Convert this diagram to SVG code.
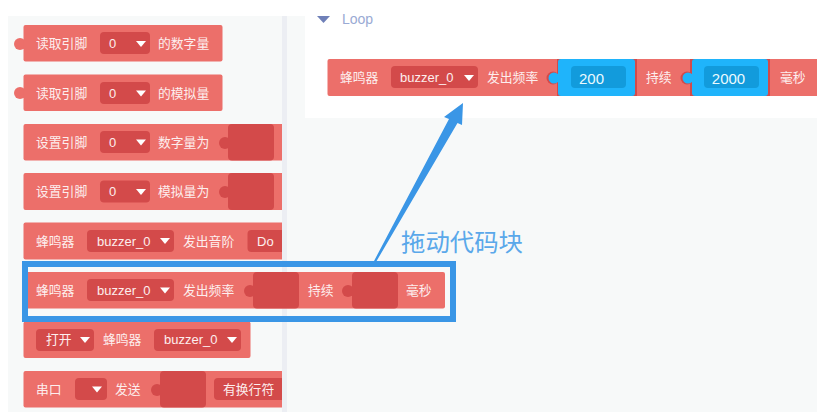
<svg xmlns="http://www.w3.org/2000/svg" width="817" height="412" viewBox="0 0 817 412">
<style>
text{font-family:"Liberation Sans","Noto Sans CJK SC",sans-serif}
.b{fill:#ec6f6a}
.d{fill:#d34a4a}
.h{fill:#d34a4a}
.t{fill:#fdeeee;font-size:12.8px;dominant-baseline:central}
.v{fill:#fdeeee;font-size:13px;dominant-baseline:central}
.w{fill:#fff}
.u{fill:#1fb4fb}
.i{fill:#129bdc}
.n{fill:#eafaff;font-size:15px;text-anchor:middle;dominant-baseline:central}
</style>
<defs>
<path id="tri" class="w" d="M-5-3H5L0 3Z"/>
</defs>
<rect width="817" height="412" fill="#fff"/>
<rect x="8" y="16" width="809" height="396" fill="#f7f9f9"/>
<rect x="282" y="16" width="5" height="396" fill="#eceef3"/>
<rect x="305" y="0" width="512" height="118" fill="#fff"/>

<g id="block-read-digital">
<circle class="b" cx="20" cy="44" r="6"/><rect class="b" x="23.500" y="25" width="199" height="36.500" rx="2"/>
<text class="t" x="36" y="43.500">读取引脚</text>
<rect class="d" x="100" y="32" width="50" height="22" rx="4"/><text class="v" x="109" y="43.500">0</text><use href="#tri" x="141" y="44"/>
<text class="t" x="158" y="43.500">的数字量</text>
</g>
<g id="block-read-analog">
<circle class="b" cx="20" cy="93" r="6"/><rect class="b" x="23.500" y="74.500" width="199" height="36.500" rx="2"/>
<text class="t" x="36" y="93">读取引脚</text>
<rect class="d" x="100" y="82" width="50" height="22" rx="4"/><text class="v" x="109" y="93">0</text><use href="#tri" x="141" y="93.500"/>
<text class="t" x="158" y="93">的模拟量</text>
</g>
<g id="block-set-digital">
<path class="b" d="M25.500 124H282V160.500H25.500a2 2 0 0 1-2-2V126a2 2 0 0 1 2-2Z"/>
<text class="t" x="36" y="142">设置引脚</text>
<rect class="d" x="100" y="131" width="50" height="22" rx="4"/><text class="v" x="109" y="142">0</text><use href="#tri" x="141" y="142.500"/>
<text class="t" x="158" y="142">数字量为</text>
<circle class="h" cx="225" cy="143" r="6"/><rect class="h" x="228" y="124" width="46" height="36.500" rx="4"/>
</g>
<g id="block-set-analog">
<path class="b" d="M25.500 173H282V210H25.500a2 2 0 0 1-2-2V175a2 2 0 0 1 2-2Z"/>
<text class="t" x="36" y="191">设置引脚</text>
<rect class="d" x="100" y="180.500" width="50" height="22" rx="4"/><text class="v" x="109" y="191">0</text><use href="#tri" x="141" y="192"/>
<text class="t" x="158" y="191">模拟量为</text>
<circle class="h" cx="225" cy="192" r="6"/><rect class="h" x="228" y="173" width="46" height="37" rx="4"/>
</g>
<g id="block-buzzer-tone">
<path class="b" d="M25.500 222.500H282V259.500H25.500a2 2 0 0 1-2-2V224.500a2 2 0 0 1 2-2Z"/>
<text class="t" x="36" y="241">蜂鸣器</text>
<rect class="d" x="87" y="230" width="87" height="22" rx="4"/><text class="v" x="97" y="241">buzzer_0</text><use href="#tri" x="165" y="241"/>
<text class="t" x="183" y="241">发出音阶</text>
<path class="d" d="M282 230H251.500a4 4 0 0 0-4 4V248a4 4 0 0 0 4 4H282Z"/><text class="v" x="257" y="241">Do</text>
</g>
<g id="block-buzzer-freq">
<rect class="b" x="23.500" y="272" width="421.500" height="36.500" rx="2"/>
<text class="t" x="36" y="290">蜂鸣器</text>
<rect class="d" x="87" y="279" width="87" height="22" rx="4"/><text class="v" x="97" y="290">buzzer_0</text><use href="#tri" x="165" y="290.500"/>
<text class="t" x="183" y="290">发出频率</text>
<circle class="h" cx="250" cy="291" r="6"/><rect class="h" x="253" y="272" width="46" height="36.500" rx="4"/>
<text class="t" x="308" y="290">持续</text>
<circle class="h" cx="348" cy="291" r="6"/><rect class="h" x="352" y="272" width="46" height="36.500" rx="4"/>
<text class="t" x="406" y="290">毫秒</text>
</g>
<g id="block-open-buzzer">
<rect class="b" x="23.500" y="321.500" width="227" height="36.500" rx="2"/>
<rect class="d" x="36" y="329" width="58" height="22" rx="4"/><text class="t" x="46" y="339.500">打开</text><use href="#tri" x="85" y="340"/>
<text class="t" x="103" y="339.500">蜂鸣器</text>
<rect class="d" x="154" y="329" width="87" height="22" rx="4"/><text class="v" x="164" y="339.500">buzzer_0</text><use href="#tri" x="232" y="340"/>
</g>
<g id="block-serial">
<path class="b" d="M25.500 371H282V407.500H25.500a2 2 0 0 1-2-2V373a2 2 0 0 1 2-2Z"/>
<text class="t" x="36" y="389">串口</text>
<rect class="d" x="75" y="378" width="32" height="22" rx="4"/><use href="#tri" x="97" y="389.500"/>
<text class="t" x="115" y="389">发送</text>
<circle class="h" cx="157" cy="390" r="6"/><rect class="h" x="160" y="371" width="46" height="36.500" rx="4"/>
<path class="d" d="M282 378H218a4 4 0 0 0-4 4V396a4 4 0 0 0 4 4H282Z"/><text class="t" x="223" y="389">有换行符</text>
</g>

<g id="loop-header">
<path d="M317 16H330L323.500 23Z" fill="#6f80b8"/>
<text x="342" y="19" font-size="14" fill="#9aaad4" dominant-baseline="central">Loop</text>
</g>
<g id="loop-block">
<path class="b" d="M817 59H329.500a2 2 0 0 0-2 2V94a2 2 0 0 0 2 2H817Z"/>
<text class="t" x="340" y="77">蜂鸣器</text>
<rect class="d" x="391" y="66" width="87" height="22" rx="4"/><text class="v" x="400" y="77">buzzer_0</text><use href="#tri" x="469" y="78"/>
<text class="t" x="487" y="77">发出频率</text>
<circle cx="553" cy="78" r="6.500" fill="#d34a4a"/><rect x="557" y="59" width="80" height="37" fill="#d34a4a"/>
<circle class="u" cx="554" cy="78" r="5.500"/><rect class="u" x="558" y="59" width="77" height="37" rx="3"/>
<rect class="i" x="571" y="66" width="55" height="22" rx="4"/><text class="n" x="591.500" y="78">200</text>
<text class="t" x="646" y="77">持续</text>
<circle cx="687" cy="78" r="6.500" fill="#d34a4a"/><rect x="690" y="59" width="80" height="37" fill="#d34a4a"/>
<circle class="u" cx="688" cy="78" r="5.500"/><rect class="u" x="692" y="59" width="76" height="37" rx="3"/>
<rect class="i" x="704" y="66" width="55" height="22" rx="4"/><text class="n" x="728.500" y="78">2000</text>
<text class="t" x="780" y="77">毫秒</text>
</g>

<g id="connectors">
<path d="M373.500 262 449 119 444 117 463 103 462 125 457.500 123 376 262Z" fill="#3a96e6"/>
</g>
<g id="highlight">
<rect x="25" y="264" width="428" height="55" fill="none" stroke="#3a96e6" stroke-width="6"/>
</g>
<text id="label" x="401" y="242" font-size="24.400" fill="#5aa8ea" dominant-baseline="central">拖动代码块</text>
</svg>
